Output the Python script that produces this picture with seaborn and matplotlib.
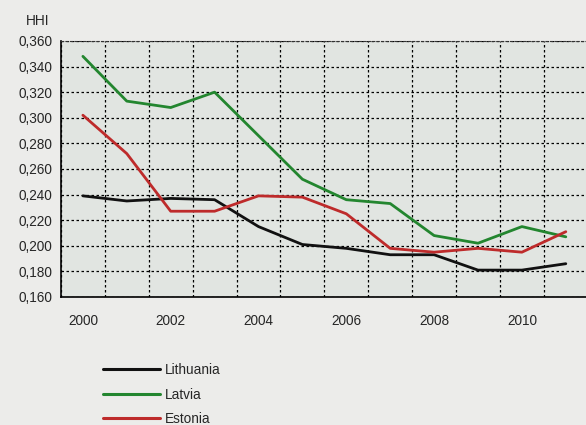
import pandas as pd
import matplotlib.pyplot as plt
import seaborn as sns
from matplotlib.ticker import FuncFormatter, MultipleLocator

# ---------- dados ----------
years = list(range(2000, 2012))
lithuania = [0.239, 0.235, 0.237, 0.236, 0.215, 0.201, 0.198, 0.193, 0.193, 0.181, 0.181, 0.186]
latvia = [0.348, 0.313, 0.308, 0.320, 0.286, 0.252, 0.236, 0.233, 0.208, 0.202, 0.215, 0.207]
estonia = [0.302, 0.272, 0.227, 0.227, 0.239, 0.238, 0.225, 0.198, 0.195, 0.198, 0.195, 0.211]

countries = ["Lithuania", "Latvia", "Estonia"]
colors = {"Lithuania": "#111111", "Latvia": "#23862F", "Estonia": "#BE2B2B"}

data = pd.DataFrame({"Year": years, "Lithuania": lithuania,
                     "Latvia": latvia, "Estonia": estonia})
data = data.melt(id_vars="Year", var_name="Country", value_name="HHI")

# ---------- estilo ----------
sns.set_style("white")
plt.rcParams["font.family"] = ["Liberation Sans", "DejaVu Sans"]
plt.rcParams["font.size"] = 9.8

fig = plt.figure(figsize=(5.86, 4.25), dpi=100, facecolor="#ECECEA")
ax = fig.add_axes([0.104, 0.3012, 0.899, 0.6024])
ax.set_facecolor("#E1E5E1")

sns.lineplot(data=data, x="Year", y="HHI", hue="Country", hue_order=countries,
             palette=colors, linewidth=2, ax=ax, legend=False)

ax.set_xlim(1999.5, 2011.5)
ax.set_ylim(0.16, 0.36)
ax.set_xticks(years[::2])
ax.xaxis.set_minor_locator(MultipleLocator(1, offset=0.5))
ax.yaxis.set_major_locator(MultipleLocator(0.02))
ax.yaxis.set_major_formatter(FuncFormatter(lambda v, p: f"{v:.3f}".replace(".", ",")))
ax.grid(False)
ax.grid(True, which="minor", axis="x", color="black", linestyle=(0, (2, 2)), linewidth=0.9)
ax.grid(True, which="major", axis="y", color="black", linestyle=(0, (2, 2)), linewidth=0.9)
ax.tick_params(which="both", length=0)
ax.tick_params(axis="x", pad=12)
ax.tick_params(axis="y", pad=6)
ax.set_xlabel("")
ax.set_ylabel("")

for s in ["left", "bottom"]:
    ax.spines[s].set_color("black")
    ax.spines[s].set_linewidth(1.2)
ax.spines["top"].set_linestyle((0, (2, 2)))
ax.spines["top"].set_color("#333333")
ax.spines["right"].set_visible(False)

fig.text(0.065, 0.951, "HHI", ha="center", va="center", fontsize=9.8)

handles = [plt.Line2D([], [], color=colors[c], linewidth=2.2) for c in countries]
fig.legend(handles, countries, loc="upper left", bbox_to_anchor=(0.175, 0.146),
           frameon=False, handlelength=4.2, handletextpad=0.4, labelspacing=0.78,
           borderaxespad=0, borderpad=0)

plt.savefig("out.png", dpi=100, facecolor=fig.get_facecolor())
